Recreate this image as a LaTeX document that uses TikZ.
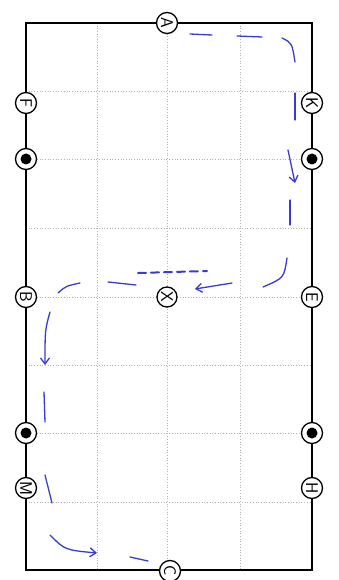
\documentclass[tikz,border=0pt]{standalone}
\usepackage{tikz}
\usepackage{xcolor}
\usetikzlibrary{arrows.meta}
\definecolor{pen}{HTML}{3A3CD0}
\definecolor{gridgray}{HTML}{B4B4B4}

\begin{document}
\begin{tikzpicture}[x=1pt, y=-1pt,
    letter/.style={draw, circle, fill=white, line width=1.3pt, minimum size=21pt, inner sep=0pt, font=\sffamily\fontsize{17}{17}\selectfont, rotate=-90},
    dotmark/.style={draw, circle, fill=white, line width=1.3pt, minimum size=21pt, inner sep=0pt,
        path picture={\fill[black] (path picture bounding box.center) circle (5.5pt);}},
    gridline/.style={gridgray, dotted, line width=0.7pt},
    track/.style={pen, line width=1.3pt, line cap=round},
    >={Straight Barb[length=6pt, width=9pt]},
]
    \fill[white] (0,0) rectangle (338,580);
    \useasboundingbox (0,0) rectangle (338,580);

    % Grid
    \foreach \gx in {97,167,240}
        \draw[gridline] (\gx,23) -- (\gx,570);
    \foreach \gy in {91,159,228,297,365,433,502}
        \draw[gridline] (26,\gy) -- (312,\gy);

    % Arena
    \draw[line width=2pt] (26,23) rectangle (312,570);

    % Markers
    \node[letter] (A) at (167,23) {A};
    \node[letter] (C) at (170,571) {C};
    \node[letter] (F) at (26,103) {F};
    \node[dotmark] (lf) at (26,159) {};
    \node[letter] (B) at (26,297) {B};
    \node[dotmark] (lm) at (26,433) {};
    \node[letter] (M) at (26,488) {M};
    \node[letter] (K) at (312,103) {K};
    \node[dotmark] (rk) at (312,159) {};
    \node[letter] (E) at (312,297) {E};
    \node[dotmark] (rh) at (312,433) {};
    \node[letter] (H) at (312,488) {H};
    \node[letter, minimum size=20pt] (X) at (167,297) {X};

    % Route
    \draw[track] (190,34) -- (212,35);
    \draw[track] (237,36) -- (262,37);
    \draw[track] (282,38) .. controls (292,43) .. (295,62);
    \draw[track] (295,93) -- (295,120);
    \draw[track, ->] (288,150) -- (295,183);
    \draw[track] (290,200) -- (290,225);
    \draw[track] (287,258) .. controls (284,278) .. (263,287);
    \draw[track, ->] (232,283) -- (195,289);
    \draw[track, line width=2pt, dash pattern=on 8pt off 5pt] (138,273) -- (207,271);
    \draw[track] (108,282) -- (136,285);
    \draw[track] (80,283) .. controls (66,286) .. (58,293);
    \draw[track, ->] (50,312) .. controls (45,330) .. (45,365);
    \draw[track] (44,392) -- (45,422);
    \draw[track] (45,475) -- (52,503);
    \draw[track, ->] (50,535) .. controls (65,550) .. (97,553);
    \draw[track] (130,557) -- (148,561);
\end{tikzpicture}
\end{document}
